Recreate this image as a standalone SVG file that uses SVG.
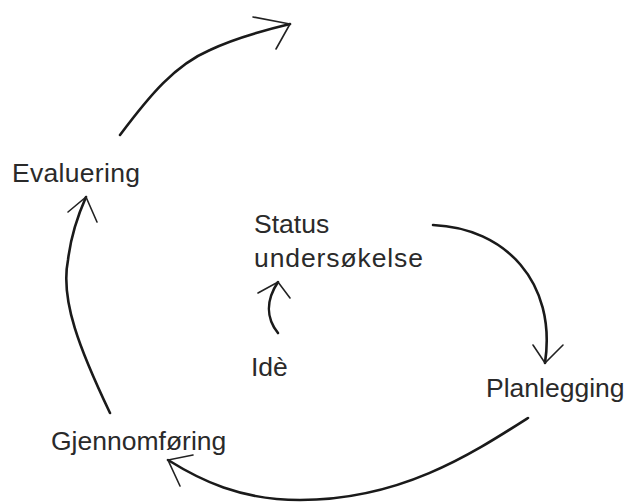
<svg xmlns="http://www.w3.org/2000/svg" width="632" height="502" viewBox="0 0 632 502">
<style>
.t{font-family:"Liberation Sans",Arial,sans-serif;font-size:26.5px;fill:#2a2a2a}
.c{fill:none;stroke:#1a1a1a;stroke-width:2.6;stroke-linecap:round}
.h{fill:none;stroke:#222;stroke-width:1.6;stroke-linecap:round}
</style>
<rect width="632" height="502" fill="#fff"/>
<g id="connectors">
<path class="c" d="M120,135 C150,95 175,65 210,50 C235,38 265,30 290,24"/>
<path class="h" d="M253,17 L290,24 L276,49"/>
<path class="c" d="M433,225 C505,228 557,282 545,363"/>
<path class="h" d="M533,345 L545,363 L563,345"/>
<path class="c" d="M528,418 C470,455 400,500 300,500 C240,500 200,480 168,460"/>
<path class="h" d="M193,455 L168,460 L180,486"/>
<path class="c" d="M110,413 C80,350 60,300 68,260 C71,235 78,215 86,197"/>
<path class="h" d="M68,212 L86,197 L97,222"/>
<path class="c" d="M278,333 C266,318 266,300 278,282"/>
<path class="h" d="M258,293 L278,282 L290,298"/>
</g>
<g id="evaluering"><text class="t" x="12" y="182" letter-spacing="0.3">Evaluering</text></g>
<g id="status"><text class="t" x="254" y="233">Status</text><text class="t" x="254" y="267" letter-spacing="0.9">undersøkelse</text></g>
<g id="ide"><text class="t" x="251" y="376">Idè</text></g>
<g id="planlegging"><text class="t" x="486" y="397">Planlegging</text></g>
<g id="gjennomforing"><text class="t" x="51" y="450">Gjennomføring</text></g>
</svg>
